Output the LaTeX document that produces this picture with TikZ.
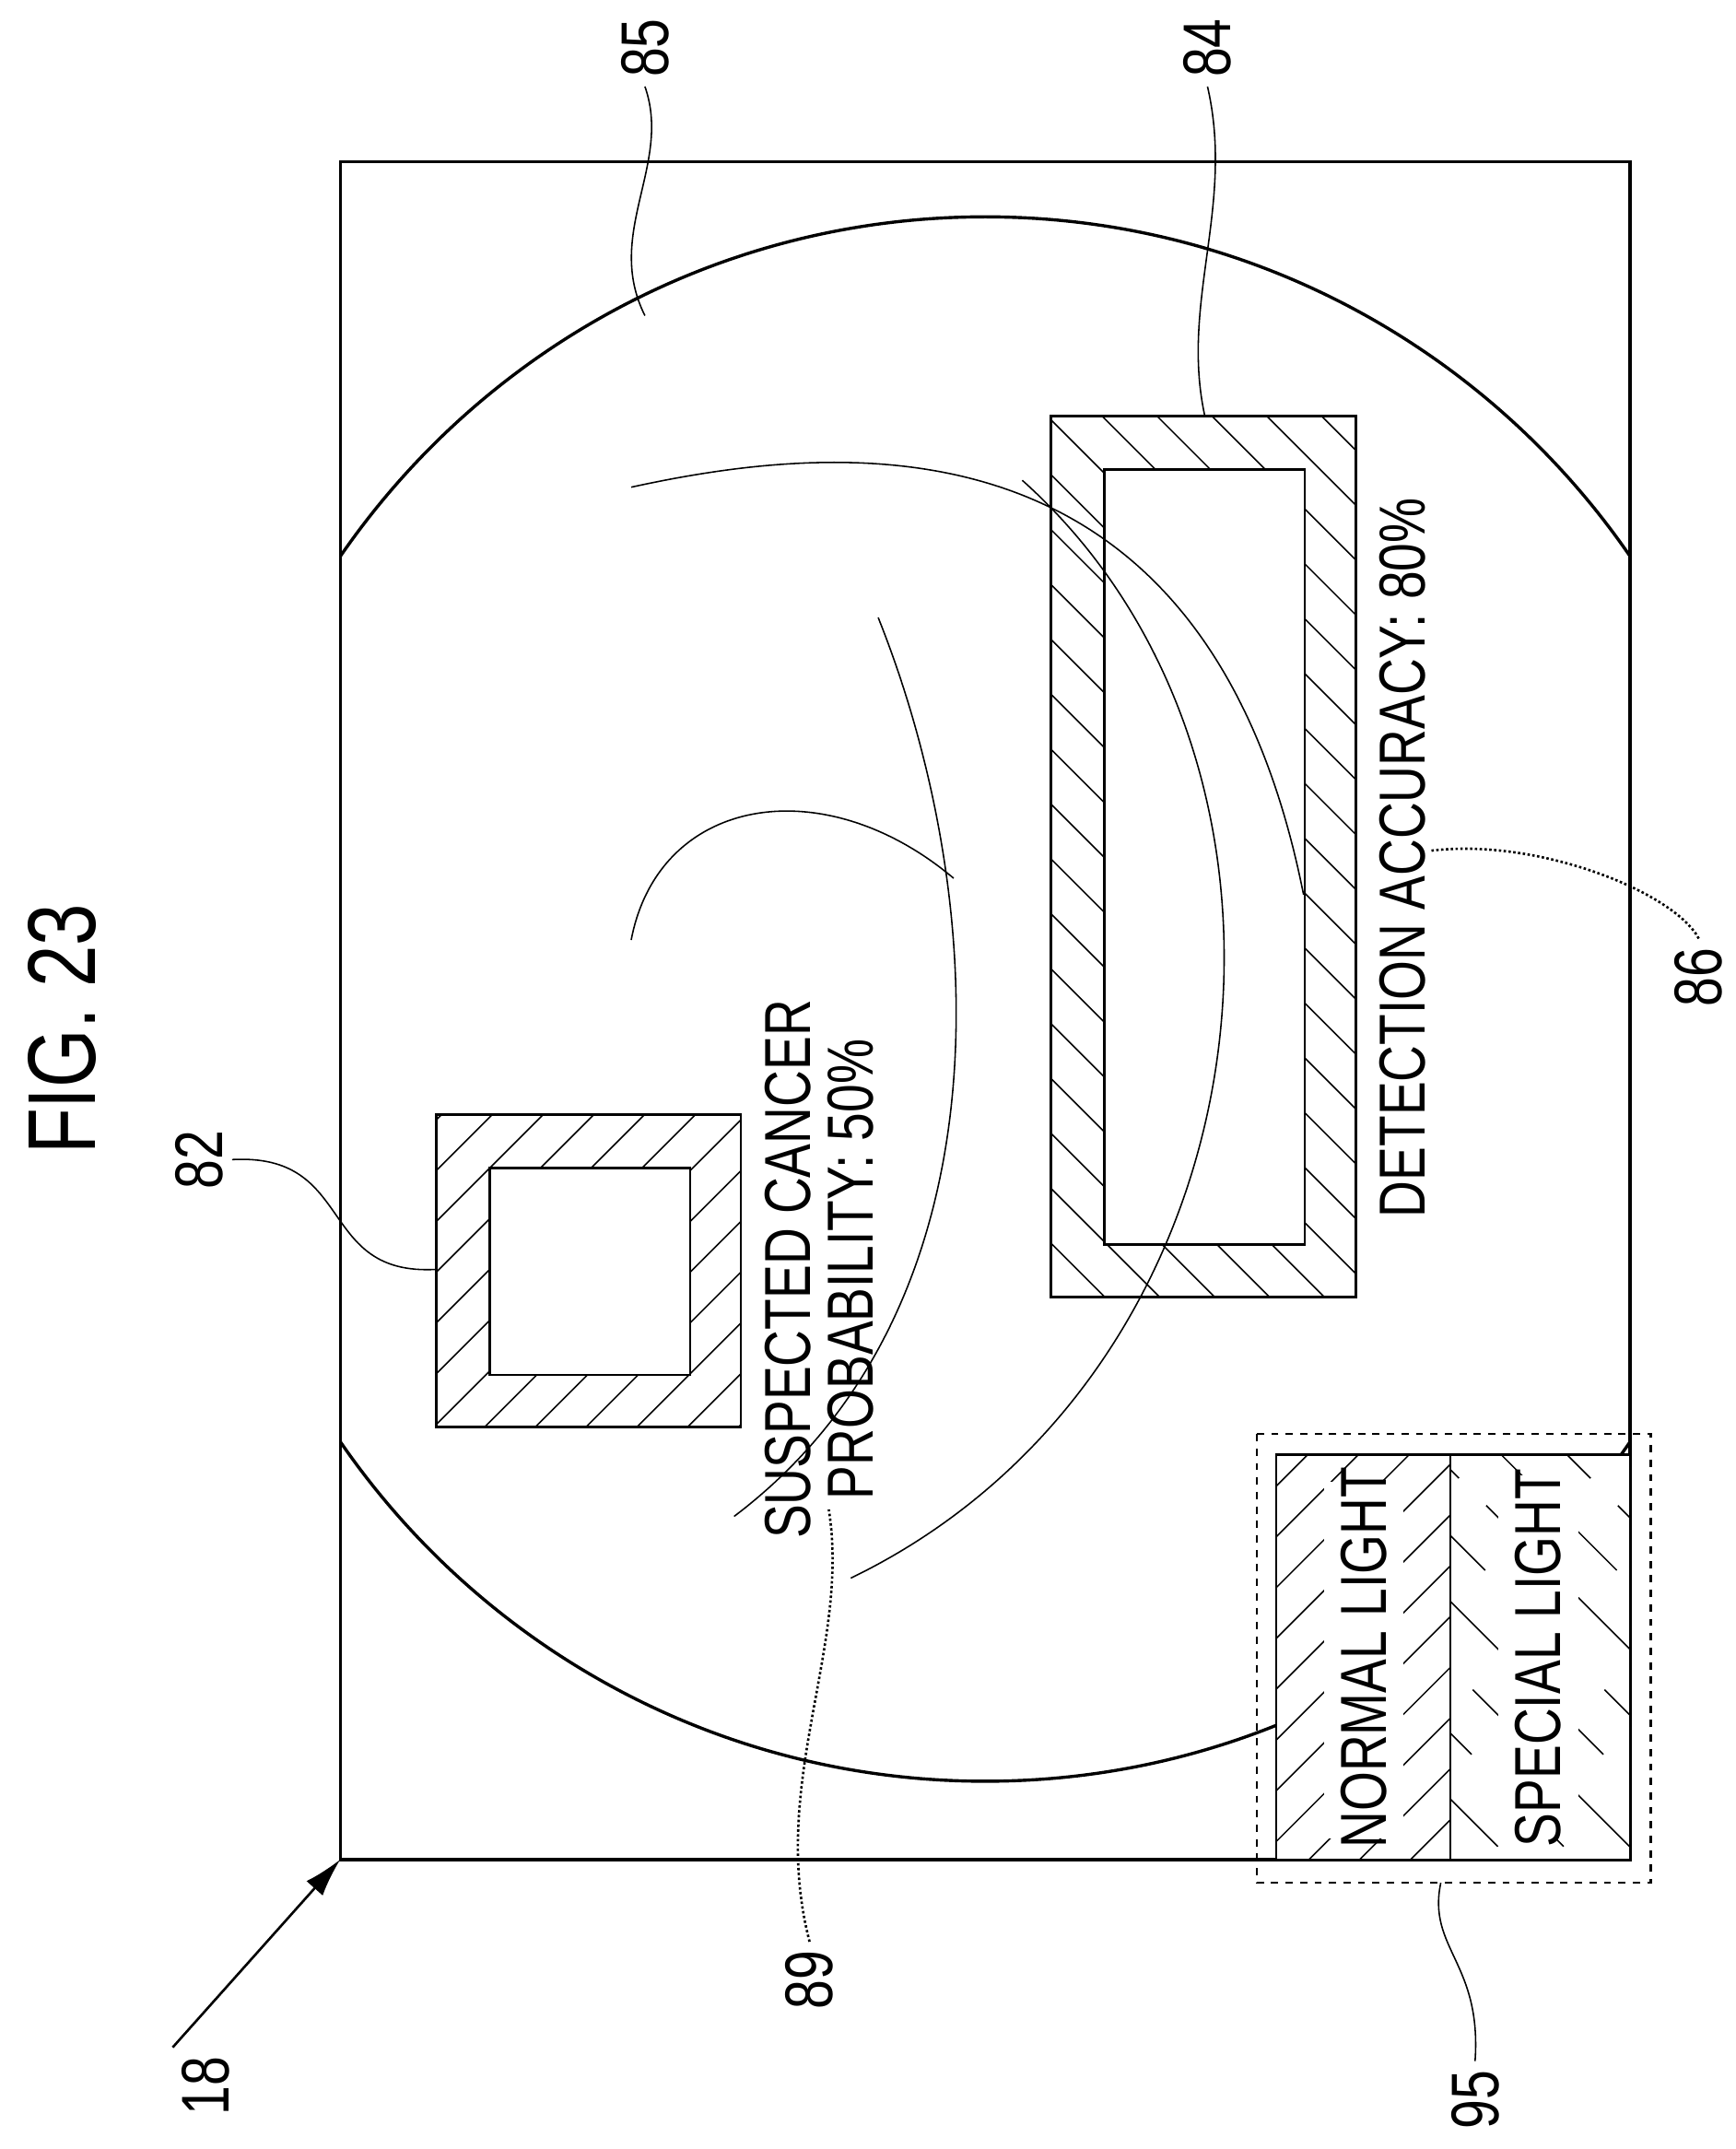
\documentclass[tikz,border=0pt]{standalone}
\usepackage{fontspec}
\setmainfont{Liberation Sans}
\usetikzlibrary{arrows.meta}
\newcommand{\cnd}[1]{\scalebox{0.78}[1]{#1}}
\tikzset{lbl/.style={rotate=90,font=\fontsize{28}{30}\selectfont},
txt/.style={rotate=90,font=\fontsize{27}{30}\selectfont,align=center},
thin line/.style={line width=0.6pt},
hat/.style={line width=0.6pt}}
\begin{document}
\begin{tikzpicture}[x=0.02cm,y=-0.02cm,line width=1pt]
\useasboundingbox (0,0) rectangle (1265,1566);
\node[rotate=90,font=\fontsize{40}{40}\selectfont] (fig) at (45,750) {\cnd{FIG. 23}};
% frame
\draw[line width=1.3pt] (248,118) rectangle (1188,1355);
\coordinate (tl) at (248,1355);
\begin{scope}
\clip (248,118) rectangle (1188,1355);
\draw[line width=1.3pt] (718,728) circle (570);
\end{scope}
% box 82
\begin{scope}[even odd rule]
\clip (318,812) rectangle (540,1040) (357,851) rectangle (503,1002);
\foreach \i in {0,37,...,800} \draw[hat] (\i,1060) -- ++(300,-300);
\end{scope}
\draw (318,812) rectangle (540,1040);
\draw (357,851) rectangle (503,1002);
% box 84
\begin{scope}[even odd rule]
\clip (766,303) rectangle (988,945) (805,342) rectangle (951,907);
\foreach \i in {-400,-360,...,1000} \draw[hat] (\i+300,280) -- ++(700,700);
\end{scope}
\draw (766,303) rectangle (988,945);
\draw (805,342) rectangle (951,907);
% curves
\draw[thin line] (460,355) .. controls (620,320) and (880,300) .. (950,652);
\draw[thin line] (745,350) .. controls (980,560) and (930,1000) .. (620,1150);
\draw[thin line] (640,450) .. controls (720,650) and (740,950) .. (535,1105);
\draw[thin line] (460,685) .. controls (480,580) and (600,560) .. (695,640);
% box 95
\fill[white] (930,1060) rectangle (1188,1355);
\begin{scope}
\clip (930,1060) rectangle (1057,1355);
\foreach \i in {-400,-363,...,500} \draw[hat] (\i+700,1380) -- ++(400,-400);
\end{scope}
\begin{scope}
\clip (1057,1060) rectangle (1188,1355);
\foreach \i in {-500,-452,...,500} \draw[hat,dash pattern=on 38pt off 16pt] (\i+700,1030) -- ++(400,400);
\end{scope}
\fill[white] (965,1080) rectangle (1023,1340);
\fill[white] (1092,1075) rectangle (1150,1340);
\draw (930,1060) rectangle (1188,1355);
\draw (1057,1060) -- (1057,1355);
\draw[dashed,line width=0.8pt] (916,1045) rectangle (1203,1372);
% texts
\node[txt] (t89) at (597,925) {\cnd{SUSPECTED CANCER}\\[-4pt]\cnd{PROBABILITY: 50\%}};
\node[txt] (t86) at (1022,625) {\cnd{DETECTION ACCURACY: 80\%}};
\node[txt] (nl) at (994,1208) {\cnd{NORMAL LIGHT}};
\node[txt] (sl) at (1121,1208) {\cnd{SPECIAL LIGHT}};
% labels
\node[lbl] (l85) at (470,35) {\cnd{85}};
\node[lbl] (l84) at (880,35) {\cnd{84}};
\node[lbl] (l82) at (145,845) {\cnd{82}};
\node[lbl] (l86) at (1238,712) {\cnd{86}};
\node[lbl] (l89) at (590,1443) {\cnd{89}};
\node[lbl] (l95) at (1075,1530) {\cnd{95}};
\node[lbl] (l18) at (150,1520) {\cnd{18}};
\coordinate (p85) at (470,230);
\coordinate (p84) at (878,303);
\coordinate (p82) at (318,925);
\coordinate (p86) at (1042,620);
\coordinate (p89) at (604,1100);
\coordinate (p95) at (1050,1372);
\draw[thin line] (l85.west) .. controls (490,120) and (440,170) .. (p85);
\draw[thin line] (l84.west) .. controls (900,150) and (860,220) .. (p84);
\draw[thin line] (l82.south) .. controls (260,840) and (230,930) .. (p82);
\draw[line width=1pt,densely dotted] (l86.east) .. controls (1220,650) and (1120,610) .. (p86);
\draw[line width=1pt,densely dotted] (l89.east) .. controls (560,1300) and (620,1200) .. (p89);
\draw[thin line] (l95.east) .. controls (1080,1430) and (1040,1420) .. (p95);
\draw[-{Latex[length=16pt,width=9pt]},line width=1pt] (l18.north east) -- (tl);
\end{tikzpicture}
\end{document}
